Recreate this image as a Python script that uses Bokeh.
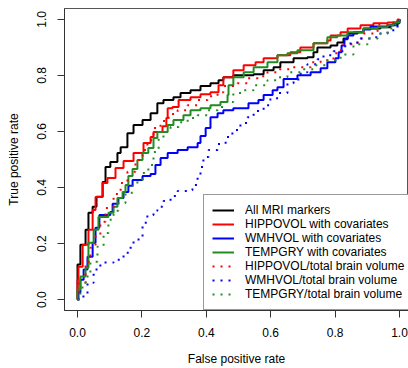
from bokeh.plotting import figure
from bokeh.models import Range1d, FixedTicker, PrintfTickFormatter, Legend, LegendItem
from bokeh.embed import file_html
from bokeh.resources import INLINE

FONT = "Liberation Sans"

# ROC curves: (false positive rate, true positive rate)
all_fpr = [0, 0, 0.009, 0.025, 0.034, 0.047, 0.059, 0.078, 0.087, 0.102, 0.124, 0.134, 0.155, 0.174,
           0.202, 0.227, 0.248, 0.267, 0.298, 0.320, 0.351, 0.382, 0.413, 0.438, 0.453, 0.484, 0.547,
           0.578, 0.609, 0.630, 0.671, 0.714, 0.733, 0.745, 0.786, 0.807, 0.826, 0.839, 0.870, 0.888,
           0.941, 0.972, 0.994, 1]
all_tpr = [0, 0.125, 0.196, 0.249, 0.310, 0.331, 0.367, 0.420, 0.473, 0.491, 0.523, 0.544, 0.594, 0.623,
           0.641, 0.665, 0.701, 0.712, 0.722, 0.737, 0.747, 0.762, 0.772, 0.783, 0.794, 0.801, 0.804,
           0.819, 0.829, 0.847, 0.861, 0.865, 0.883, 0.900, 0.907, 0.918, 0.932, 0.950, 0.954, 0.968,
           0.972, 0.979, 0.996, 1]

hip_fpr = [0, 0, 0.003, 0.016, 0.034, 0.047, 0.056, 0.078, 0.093, 0.118, 0.143, 0.174, 0.205, 0.227,
           0.236, 0.264, 0.276, 0.280, 0.295, 0.314, 0.351, 0.382, 0.413, 0.438, 0.453, 0.484, 0.516,
           0.553, 0.578, 0.621, 0.661, 0.692, 0.733, 0.776, 0.786, 0.817, 0.839, 0.879, 0.919, 0.963,
           0.994, 1]
hip_tpr = [0, 0.071, 0.117, 0.196, 0.249, 0.320, 0.366, 0.416, 0.434, 0.470, 0.495, 0.523, 0.559, 0.580,
           0.598, 0.619, 0.648, 0.683, 0.687, 0.712, 0.722, 0.733, 0.740, 0.765, 0.794, 0.819, 0.836,
           0.847, 0.861, 0.872, 0.883, 0.900, 0.915, 0.925, 0.943, 0.954, 0.968, 0.979, 0.986, 0.989,
           1.0, 1]

wmh_fpr = [0, 0.003, 0.009, 0.019, 0.031, 0.047, 0.056, 0.068, 0.102, 0.109, 0.127, 0.143, 0.158, 0.171,
           0.202, 0.227, 0.242, 0.258, 0.280, 0.311, 0.342, 0.373, 0.382, 0.398, 0.413, 0.435, 0.453,
           0.484, 0.531, 0.562, 0.578, 0.606, 0.621, 0.640, 0.683, 0.724, 0.755, 0.776, 0.801, 0.811,
           0.820, 0.829, 0.839, 0.857, 0.888, 0.910, 0.963, 0.981, 1]
wmh_tpr = [0, 0.025, 0.071, 0.107, 0.153, 0.203, 0.256, 0.302, 0.313, 0.342, 0.363, 0.384, 0.406, 0.427,
           0.441, 0.448, 0.480, 0.505, 0.523, 0.534, 0.544, 0.559, 0.584, 0.612, 0.651, 0.665, 0.676,
           0.683, 0.701, 0.712, 0.730, 0.747, 0.758, 0.787, 0.801, 0.811, 0.826, 0.847, 0.861, 0.883,
           0.907, 0.929, 0.943, 0.954, 0.964, 0.975, 0.979, 0.986, 1]

tmp_fpr = [0, 0, 0.009, 0.025, 0.034, 0.050, 0.065, 0.096, 0.112, 0.124, 0.140, 0.149, 0.158, 0.171,
           0.186, 0.202, 0.220, 0.236, 0.248, 0.280, 0.298, 0.329, 0.351, 0.382, 0.413, 0.444, 0.466,
           0.469, 0.484, 0.516, 0.547, 0.590, 0.621, 0.652, 0.683, 0.733, 0.776, 0.807, 0.839, 0.888,
           0.932, 0.963, 0.981, 1]
tmp_tpr = [0, 0.036, 0.082, 0.114, 0.203, 0.249, 0.295, 0.310, 0.331, 0.363, 0.384, 0.409, 0.441, 0.466,
           0.498, 0.523, 0.541, 0.577, 0.598, 0.623, 0.641, 0.658, 0.676, 0.683, 0.694, 0.705, 0.730,
           0.765, 0.794, 0.811, 0.829, 0.847, 0.872, 0.879, 0.890, 0.915, 0.936, 0.943, 0.954, 0.968,
           0.972, 0.979, 0.989, 1]

hipr_fpr = [0, 0.003, 0.025, 0.040, 0.056, 0.071, 0.087, 0.112, 0.134, 0.155, 0.180, 0.202, 0.217,
            0.236, 0.258, 0.283, 0.311, 0.342, 0.373, 0.404, 0.435, 0.453, 0.497, 0.528, 0.559, 0.590,
            0.621, 0.661, 0.724, 0.755, 0.795, 0.817, 0.826, 0.870, 0.885, 0.932, 0.972, 1]
hipr_tpr = [0, 0.060, 0.135, 0.185, 0.231, 0.278, 0.327, 0.377, 0.416, 0.456, 0.498, 0.534, 0.569,
            0.612, 0.637, 0.662, 0.676, 0.694, 0.712, 0.726, 0.740, 0.762, 0.772, 0.790, 0.797, 0.811,
            0.822, 0.829, 0.847, 0.854, 0.879, 0.890, 0.911, 0.932, 0.950, 0.982, 0.989, 1]

wmhr_fpr = [0, 0.009, 0.031, 0.050, 0.071, 0.112, 0.143, 0.165, 0.174, 0.202, 0.217, 0.236, 0.248,
            0.267, 0.289, 0.311, 0.342, 0.357, 0.373, 0.382, 0.391, 0.407, 0.435, 0.460, 0.481, 0.506,
            0.528, 0.547, 0.578, 0.599, 0.624, 0.652, 0.671, 0.693, 0.714, 0.745, 0.764, 0.795, 0.826,
            0.848, 0.879, 0.910, 0.941, 0.963, 0.994, 1]
wmhr_tpr = [0, 0.011, 0.060, 0.107, 0.132, 0.142, 0.167, 0.189, 0.214, 0.274, 0.302, 0.317, 0.331,
            0.352, 0.370, 0.388, 0.391, 0.409, 0.438, 0.473, 0.509, 0.534, 0.555, 0.580, 0.605, 0.630,
            0.651, 0.673, 0.694, 0.719, 0.737, 0.772, 0.786, 0.811, 0.840, 0.858, 0.872, 0.886, 0.904,
            0.918, 0.932, 0.936, 0.950, 0.961, 0.986, 1]

tmpr_fpr = [0, 0.009, 0.025, 0.040, 0.062, 0.081, 0.096, 0.112, 0.127, 0.149, 0.171, 0.186, 0.202,
            0.220, 0.236, 0.252, 0.267, 0.289, 0.314, 0.342, 0.373, 0.404, 0.435, 0.453, 0.484, 0.516,
            0.547, 0.590, 0.621, 0.652, 0.693, 0.733, 0.776, 0.817, 0.857, 0.901, 0.932, 0.963, 0.988, 1]
tmpr_tpr = [0, 0.043, 0.082, 0.135, 0.189, 0.238, 0.285, 0.317, 0.345, 0.381, 0.406, 0.427, 0.452,
            0.480, 0.527, 0.577, 0.598, 0.616, 0.633, 0.648, 0.658, 0.676, 0.687, 0.705, 0.737, 0.747,
            0.765, 0.783, 0.794, 0.811, 0.822, 0.836, 0.854, 0.875, 0.911, 0.932, 0.950, 0.968, 0.982, 1]

labels = ["All MRI markers", "HIPPOVOL with covariates", "WMHVOL with covariates",
          "TEMPGRY with covariates", "HIPPOVOL/total brain volume",
          "WMHVOL/total brain volume", "TEMPGRY/total brain volume"]
tick_values = [0.0, 0.2, 0.4, 0.6, 0.8, 1.0]

GREEN = "#228B22"
series = [
    (all_fpr, all_tpr, "black", "solid"),
    (hip_fpr, hip_tpr, "#FF0000", "solid"),
    (wmh_fpr, wmh_tpr, "#0000FF", "solid"),
    (tmp_fpr, tmp_tpr, GREEN, "solid"),
    (hipr_fpr, hipr_tpr, "#FF0000", "2 6"),
    (wmhr_fpr, wmhr_tpr, "#0000FF", "2 6"),
    (tmpr_fpr, tmpr_tpr, GREEN, "2 6"),
]

p = figure(width=408, height=368,
           x_range=Range1d(-0.0404, 1.028), y_range=Range1d(-0.039, 1.039),
           output_backend="svg", toolbar_location=None,
           min_border_left=64, min_border_right=0, min_border_top=8, min_border_bottom=57)
p.grid.visible = False
p.outline_line_color = "#555555"
p.outline_line_width = 1
p.background_fill_color = "white"
p.border_fill_color = "white"

for ax in (p.xaxis[0], p.yaxis[0]):
    ax.ticker = FixedTicker(ticks=tick_values)
    ax.formatter = PrintfTickFormatter(format="%.1f")
    ax.major_tick_out = 7
    ax.major_tick_in = 0
    ax.minor_tick_out = 0
    ax.minor_tick_in = 0
    ax.major_label_text_font = FONT
    ax.major_label_text_font_size = "12px"
    ax.major_label_text_color = "black"
    ax.axis_label_text_font = FONT
    ax.axis_label_text_font_size = "12px"
    ax.axis_label_text_font_style = "normal"
    ax.axis_label_text_color = "black"
    ax.axis_line_color = "#333333"
    ax.major_tick_line_color = "#333333"

p.xaxis.axis_label = "False positive rate"
p.yaxis.axis_label = "True positive rate"
p.xaxis.major_label_standoff = 10
p.xaxis.axis_label_standoff = 12
p.yaxis.major_label_standoff = 11
p.yaxis.axis_label_standoff = 14
p.yaxis.major_label_orientation = "vertical"

items = []
for (xs, ys, col, dash), lab in zip(series, labels):
    r = p.step(xs, ys, mode="after", line_color=col, line_width=2, line_dash=dash)
    items.append(LegendItem(label=lab, renderers=[r]))

legend = Legend(items=items, location=(139, 0), margin=0, padding=8, spacing=0,
                label_height=14, glyph_height=14, glyph_width=22, label_standoff=11,
                label_text_font=FONT, label_text_font_size="12px", label_text_color="black",
                border_line_color="#333333", border_line_width=1,
                background_fill_color="white", background_fill_alpha=1.0)
p.add_layout(legend, "center")

open("out.html", "w").write(file_html(p, INLINE))
